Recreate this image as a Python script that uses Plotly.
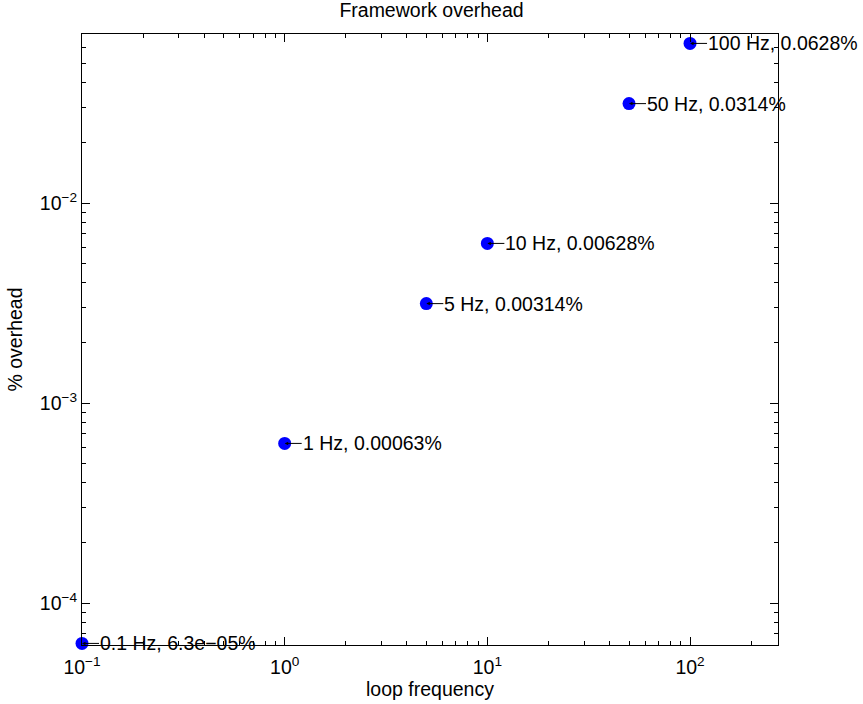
import plotly.graph_objects as go
import numpy as np

freq = [0.1, 1, 5, 10, 50, 100]
overhead = [6.28e-05, 0.000628, 0.00314, 0.00628, 0.0314, 0.0628]
labels = ["0.1 Hz, 6.3e\u221205%", "1 Hz, 0.00063%", "5 Hz, 0.00314%",
          "10 Hz, 0.00628%", "50 Hz, 0.0314%", "100 Hz, 0.0628%"]
xtick_vals = [0.1, 1, 10, 100]
xtick_text = ["10<sup>\u22121</sup>", "10<sup>0</sup>", "10<sup>1</sup>", "10<sup>2</sup>"]
ytick_vals = [1e-4, 1e-3, 1e-2]
ytick_text = ["10<sup>\u22124</sup>", "10<sup>\u22123</sup>", "10<sup>\u22122</sup>"]

FONT = "Liberation Sans, Arial, sans-serif"
FS = 19.5

x_minor = [m * 10.0 ** d for d in range(-1, 3) for m in range(2, 10)]
y_minor = [m * 10.0 ** d for d in range(-5, -1) for m in range(2, 10)]

fig = go.Figure()
fig.add_trace(go.Scatter(
    x=freq, y=overhead, mode="markers",
    marker=dict(color="#0000ff", size=13, line=dict(width=0)),
    cliponaxis=False, showlegend=False,
))

for xv, yv, t in zip(freq, overhead, labels):
    fig.add_annotation(
        x=np.log10(xv), y=np.log10(yv), xref="x", yref="y",
        text=t, showarrow=True, arrowhead=2, arrowsize=0.7, arrowwidth=1,
        arrowcolor="black", ax=17, ay=0, xanchor="left", yanchor="middle",
        font=dict(family=FONT, size=FS, color="black"),
        borderpad=0, standoff=0,
    )

axis_common = dict(
    type="log", showgrid=False, zeroline=False, showline=True, linecolor="black",
    linewidth=1, mirror="ticks", ticks="inside", ticklen=8, tickcolor="black",
    tickfont=dict(family=FONT, size=FS, color="black"), automargin=False,
)

fig.update_xaxes(
    **axis_common, range=[-1, 2.434], tickvals=xtick_vals, ticktext=xtick_text,
    ticklabelstandoff=5,
    minor=dict(ticks="inside", ticklen=4, tickcolor="black", showgrid=False, tickvals=x_minor),
    title=dict(text="loop frequency", font=dict(family=FONT, size=FS, color="black"), standoff=4),
)
fig.update_yaxes(
    **axis_common, range=[-4.21, -1.155], tickvals=ytick_vals, ticktext=ytick_text,
    minor=dict(ticks="inside", ticklen=4, tickcolor="black", showgrid=False, tickvals=y_minor),
    title=dict(text="% overhead", font=dict(family=FONT, size=FS, color="black"), standoff=12),
)

fig.update_layout(
    width=863, height=704,
    margin=dict(l=82, r=85, t=34, b=59),
    paper_bgcolor="white", plot_bgcolor="white",
    title=dict(text="Framework overhead", x=0.5, xanchor="center", y=1 - 10 / 704, yanchor="middle",
               font=dict(family=FONT, size=FS, color="black")),
)

fig.write_html("out.html", config={"displayModeBar": False},
               post_script="document.body.style.margin='0';")
